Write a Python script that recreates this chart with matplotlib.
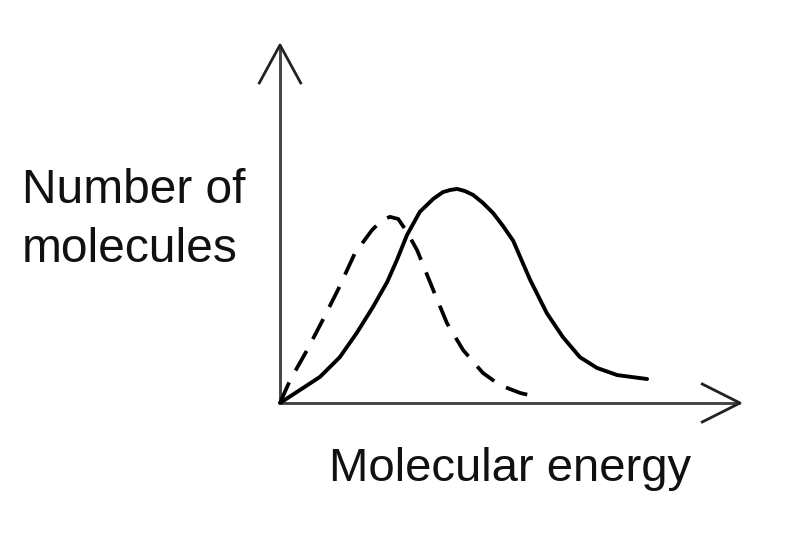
import matplotlib.pyplot as plt
import numpy as np

plt.rcParams['font.family'] = ['Liberation Sans', 'DejaVu Sans']

# solid curve (higher temperature)
energy_hot = [0, 0.43, 0.87, 1.30, 1.67, 2.02, 2.33, 2.54, 2.76, 3.04, 3.33, 3.54, 3.70,
              3.85, 4.02, 4.20, 4.41, 4.63, 4.85, 5.07, 5.43, 5.80, 6.15, 6.52, 6.89,
              7.33, 7.98]
count_hot = [0, 0.36, 0.73, 1.28, 1.96, 2.68, 3.38, 3.99, 4.69, 5.34, 5.70, 5.89, 5.95,
             5.98, 5.92, 5.81, 5.59, 5.31, 4.94, 4.53, 3.46, 2.51, 1.84, 1.28, 0.98,
             0.78, 0.67]

# dashed curve (lower temperature)
energy_cold = [0, 0.22, 0.59, 0.93, 1.26, 1.63, 2.00, 2.22, 2.39, 2.57, 2.76, 2.98, 3.33,
               3.63, 3.98, 4.41, 4.78, 5.22, 5.59]
count_cold = [0, 0.64, 1.48, 2.32, 3.16, 4.19, 4.83, 5.11, 5.20, 5.14, 4.78, 4.27, 3.16,
              2.23, 1.48, 0.84, 0.50, 0.28, 0.17]

fig = plt.figure(figsize=(7.89, 5.34), dpi=100)
ax = fig.add_axes([280 / 789, 131 / 534, 460 / 789, 358 / 534])
ax.set_xlim(0, 10)
ax.set_ylim(0, 10)
ax.axis('off')

axis_col = '#444444'
ax.plot([0, 10], [0, 0], color=axis_col, lw=2.1, solid_capstyle='butt', clip_on=False)
ax.plot([0, 0], [0, 10], color=axis_col, lw=2.1, solid_capstyle='butt', clip_on=False)
# open arrow heads
ax.plot([9.18, 10, 9.18], [0.53, 0, -0.53], color='#222222', lw=2, clip_on=False)
ax.plot([-0.45, 0, 0.45], [8.94, 10, 8.94], color='#222222', lw=2, clip_on=False)

ax.plot(energy_hot, count_hot, color='black', lw=2.8, solid_capstyle='round',
        solid_joinstyle='round', clip_on=False)
ax.plot(energy_cold, count_cold, color='black', lw=2.7, linestyle=(0, (6.0, 3.6)),
        dash_joinstyle='round', clip_on=False)

fig.text(22 / 789, 1 - 220 / 534, 'Number of\nmolecules', fontsize=34.5, color='#111111',
         ha='left', va='center', linespacing=1.4)
fig.text(510 / 789, 1 - 469 / 534, 'Molecular energy', fontsize=34, color='#111111',
         ha='center', va='center')

fig.savefig('out.png', dpi=100)
